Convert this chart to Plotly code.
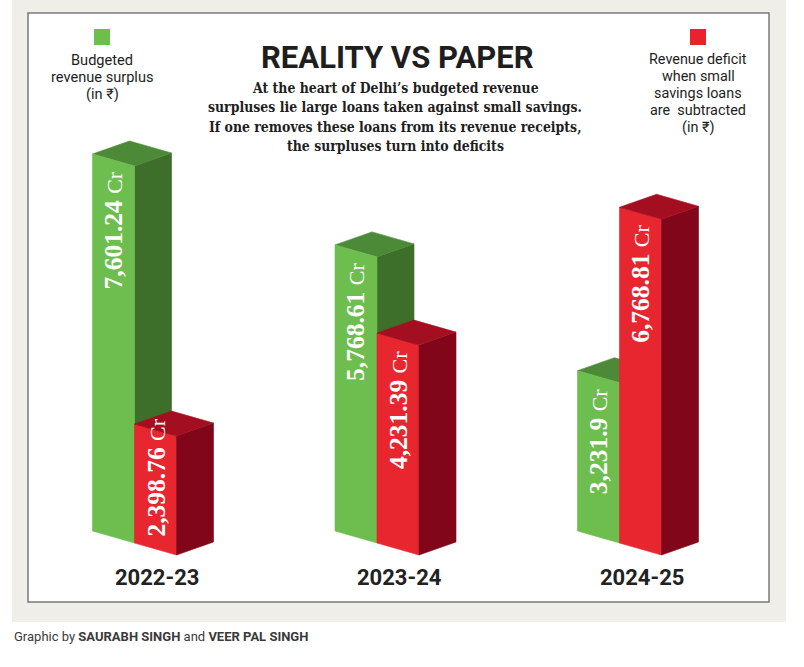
import plotly.graph_objects as go

# ---------------- data ----------------
years = ["2022-23", "2023-24", "2024-25"]
surplus = [7601.24, 5768.61, 3231.9]      # Budgeted revenue surplus (Rs Cr)
deficit = [2398.76, 4231.39, 6768.81]     # Revenue deficit without small savings loans (Rs Cr)

title = "REALITY VS PAPER"
subtitle_lines = [
    "At the heart of Delhi\u2019s budgeted revenue",
    "surpluses lie large loans taken against small savings.",
    "If one removes these loans from its revenue receipts,",
    "the surpluses turn into deficits",
]
legend_green = ["Budgeted", "revenue surplus", "(in \u20b9)"]
legend_red = ["Revenue deficit", "when small", "savings loans", "are  subtracted", "(in \u20b9)"]
credit = "Graphic by <b>SAURABH SINGH</b> and <b>VEER PAL SINGH</b>"

# ---------------- styling / geometry ----------------
W, H = 804, 667
PL, PR, PT, PB = 28, 769, 13, 602          # plot area (inner white box) in px
PX_PER_X = 242.5                            # px per category step
CENTER0 = 153                               # px of first group centre
PX_PER_VAL = 0.0496                         # px per crore
BASE_PY = 531                               # px of zero line at front-left corner

xmin = -(CENTER0 - PL) / PX_PER_X
xmax = xmin + (PR - PL) / PX_PER_X
ymin = -(PB - BASE_PY) / PX_PER_VAL
ymax = ymin + (PB - PT) / PX_PER_VAL


def dx(px):
    return px / PX_PER_X


def dy(px):
    return px / PX_PER_VAL


def paper_x(px):
    return (px - PL) / (PR - PL)


def paper_y(py):
    return (PB - py) / (PB - PT)


FRONT_W = dx(42)     # front face width
FRONT_DROP = dy(12)  # front face bottom slope
DEPTH_X = dx(37)     # side face width
DEPTH_RISE = dy(13)  # side face rise

G_FRONT, G_SIDE, G_TOP = "#6dbe4f", "#3e6f2a", "#4c8a37"
R_FRONT, R_SIDE, R_TOP = "#e8262f", "#82061a", "#a30f20"


def box(xl, y0, h):
    flb = (xl, y0)
    frb = (xl + FRONT_W, y0 - FRONT_DROP)
    brb = (xl + FRONT_W + DEPTH_X, y0 - FRONT_DROP + DEPTH_RISE)
    flt = (xl, y0 + h)
    frt = (xl + FRONT_W, y0 - FRONT_DROP + h)
    brt = (xl + FRONT_W + DEPTH_X, y0 - FRONT_DROP + DEPTH_RISE + h)
    blt = (xl + DEPTH_X, y0 + DEPTH_RISE + h)
    return {
        "front": [flb, frb, frt, flt],
        "side": [frb, brb, brt, frt],
        "top": [flt, frt, brt, blt],
    }


faces = {k: ([], []) for k in ["g_side", "g_top", "g_front", "r_front", "r_side", "r_top"]}


def add_poly(key, pts):
    xs, ys = faces[key]
    for p in pts:
        xs.append(p[0])
        ys.append(p[1])
    xs.append(pts[0][0])
    ys.append(pts[0][1])
    xs.append(None)
    ys.append(None)


label_specs = []
for i, (s, d) in enumerate(zip(surplus, deficit)):
    xl = i - dx(60.5)
    gb = box(xl, 0, s)
    rb = box(xl + FRONT_W, -FRONT_DROP, d)
    add_poly("g_side", gb["side"])
    add_poly("g_top", gb["top"])
    add_poly("g_front", gb["front"])
    add_poly("r_front", rb["front"])
    add_poly("r_side", rb["side"])
    add_poly("r_top", rb["top"])
    label_specs.append((xl + FRONT_W / 2, 0, s))
    label_specs.append((xl + FRONT_W * 1.5, -FRONT_DROP, d))

fig = go.Figure()
colors = {"g_side": G_SIDE, "g_top": G_TOP, "g_front": G_FRONT,
          "r_front": R_FRONT, "r_side": R_SIDE, "r_top": R_TOP}
for key in ["g_side", "g_top", "g_front", "r_front", "r_side", "r_top"]:
    xs, ys = faces[key]
    fig.add_trace(go.Scatter(
        x=xs, y=ys, mode="lines", fill="toself",
        fillcolor=colors[key], line=dict(color=colors[key], width=0.6),
        hoverinfo="skip", showlegend=False,
    ))

annotations = []

# value labels (rotated, inside front faces)
for xc, y0, v in label_specs:
    num = "{:,}".format(v)
    txt = ("<b>%s</b> <span style='font-weight:normal;font-size:22px'>Cr</span>" % num)
    if v * PX_PER_VAL < 150:
        y, ya = y0 + dy(4), "bottom"
    else:
        y, ya = y0 + v - dy(16), "top"
    annotations.append(dict(
        x=xc, y=y, xref="x", yref="y", text=txt, showarrow=False,
        textangle=-90, xanchor="center", yanchor=ya,
        font=dict(family="Liberation Serif", size=25.5, color="white"),
    ))

# category labels
for i, yr in enumerate(years):
    annotations.append(dict(
        x=i + dx(4), y=paper_y(577), xref="x", yref="paper", text="<b>%s</b>" % yr,
        showarrow=False, xanchor="center", yanchor="middle",
        font=dict(family="Roboto", size=22, color="#222222"),
    ))

# title and subtitle
annotations.append(dict(
    x=paper_x(397), y=paper_y(57), xref="paper", yref="paper", text="<b>%s</b>" % title,
    showarrow=False, xanchor="center", yanchor="middle",
    font=dict(family="Roboto", size=31, color="#1e1e1e"),
))
for k, line in enumerate(subtitle_lines):
    annotations.append(dict(
        x=paper_x(395), y=paper_y(88 + 19.3 * k), xref="paper", yref="paper",
        text="<b>%s</b>" % line, showarrow=False, xanchor="center", yanchor="middle",
        font=dict(family="DejaVu Serif Condensed, DejaVu Serif", size=13.9, color="#1e1e1e"),
    ))

# legend texts
for k, line in enumerate(legend_green):
    annotations.append(dict(
        x=paper_x(102), y=paper_y(60 + 17 * k), xref="paper", yref="paper", text=line,
        showarrow=False, xanchor="center", yanchor="middle",
        font=dict(family="Roboto", size=14.6, color="#1e1e1e"),
    ))
for k, line in enumerate(legend_red):
    annotations.append(dict(
        x=paper_x(698), y=paper_y(60 + 16.9 * k), xref="paper", yref="paper", text=line,
        showarrow=False, xanchor="center", yanchor="middle",
        font=dict(family="Roboto", size=14.4, color="#1e1e1e"),
    ))

# credit
annotations.append(dict(
    x=paper_x(12), y=paper_y(636), xref="paper", yref="paper", text=credit,
    showarrow=False, xanchor="left", yanchor="middle",
    font=dict(family="Roboto", size=13, color="#3a3a3a"),
))

shapes = [
    dict(type="rect", xref="paper", yref="paper", layer="below",
         x0=paper_x(12), x1=paper_x(786), y0=paper_y(622), y1=paper_y(-5),
         fillcolor="#efeee9", line=dict(width=0)),
    dict(type="rect", xref="paper", yref="paper", layer="below",
         x0=0, x1=1, y0=0, y1=1,
         fillcolor="white", line=dict(color="#7a7a7a", width=1.5)),
    dict(type="rect", xref="paper", yref="paper",
         x0=paper_x(94), x1=paper_x(110), y0=paper_y(45), y1=paper_y(29),
         fillcolor="#6cbf4a", line=dict(width=0)),
    dict(type="rect", xref="paper", yref="paper",
         x0=paper_x(690), x1=paper_x(706), y0=paper_y(45), y1=paper_y(29),
         fillcolor="#e8232d", line=dict(width=0)),
]

fig.update_layout(
    width=W, height=H,
    margin=dict(l=PL, r=W - PR, t=PT, b=H - PB, pad=0),
    paper_bgcolor="white", plot_bgcolor="rgba(0,0,0,0)",
    xaxis=dict(range=[xmin, xmax], visible=False, fixedrange=True),
    yaxis=dict(range=[ymin, ymax], visible=False, fixedrange=True),
    annotations=annotations, shapes=shapes, showlegend=False,
)

fig.write_html("out.html", config={"displayModeBar": False},
               post_script="document.body.style.margin='0px';")
